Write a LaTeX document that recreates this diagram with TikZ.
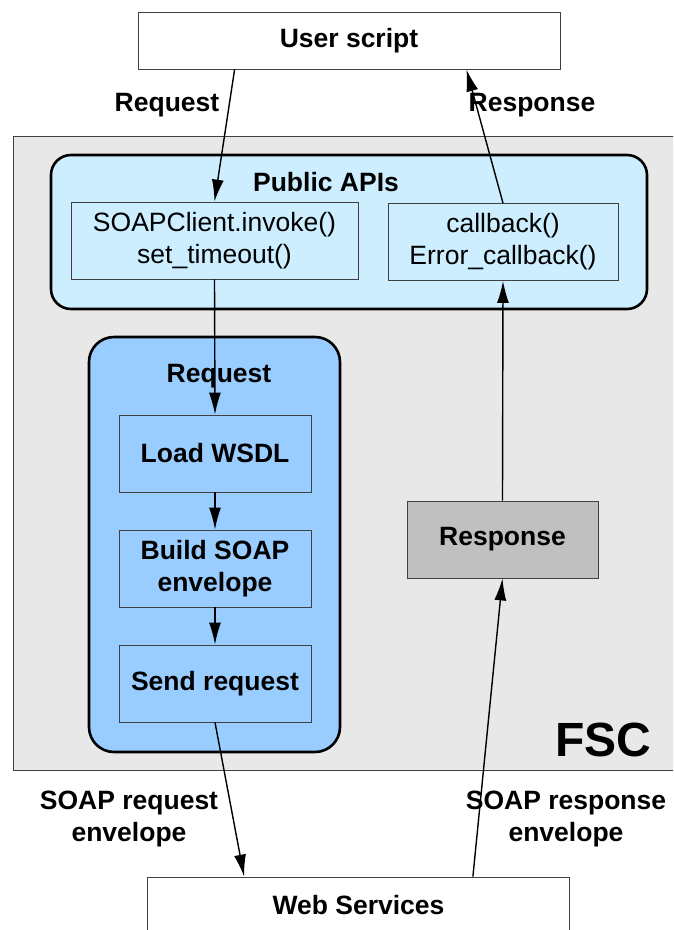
\documentclass[tikz,border=0pt]{standalone}
\usepackage{fontspec}
\setmainfont{Liberation Sans}
\usepackage{xcolor}
\usetikzlibrary{arrows.meta,calc}
\definecolor{fscgray}{HTML}{E8E8E8}
\definecolor{apiblue}{HTML}{CCEEFF}
\definecolor{reqblue}{HTML}{99CCFF}
\definecolor{respgray}{HTML}{C0C0C0}
\definecolor{edge}{HTML}{404040}
\newcommand{\lbl}{\fontsize{26.5}{32}\selectfont}

\begin{document}
\begin{tikzpicture}[x=1pt,y=-1pt,
  plain/.style={draw=edge,line width=0.8pt,fill=white,font=\lbl\bfseries,
                minimum width=422pt,minimum height=57pt,inner sep=0pt},
  group/.style={draw=black,line width=2.6pt,inner sep=0pt},
  apibox/.style={draw=edge,line width=0.8pt,fill=apiblue,font=\lbl,align=center,
                 minimum height=77pt,inner sep=0pt},
  stepbox/.style={draw=edge,line width=0.8pt,fill=reqblue,font=\lbl\bfseries,align=center,
                 minimum width=192pt,minimum height=77pt,inner sep=0pt},
  tag/.style={font=\lbl\bfseries,align=center,inner sep=0pt},
  arr/.style={-{Latex[length=22pt,width=12pt]},line width=1.4pt,black}]
  \useasboundingbox (0,0) rectangle (673,930);
  \clip (0,0) rectangle (673,930);
  % ---- outer frame
  \node[draw=edge,line width=1pt,fill=fscgray,minimum width=690pt,minimum height=634pt,
        inner sep=0pt] (fsc) at (358,453) {};
  \node[font=\fontsize{48}{56}\selectfont\bfseries,inner sep=0pt] (fsctag) at (603,740) {FSC};
  % ---- end points
  \node[plain] (user) at (349,40.5) {User script};
  \node[plain] (web)  at (358.5,905.5) {Web Services};
  % ---- public APIs
  \node[group,fill=apiblue,rounded corners=20pt,minimum width=596pt,minimum height=154pt]
       (api) at (349,232) {};
  \node[tag] (apitag) at (326,182) {Public APIs};
  \node[apibox,minimum width=287pt] (invoke) at (214.5,240.5) {SOAPClient.invoke()\\set\_timeout()};
  \node[apibox,minimum width=230pt] (cb)     at (503,242)     {callback()\\Error\_callback()};
  % ---- request chain
  \node[group,fill=reqblue,rounded corners=25pt,minimum width=251pt,minimum height=415pt]
       (req) at (214.5,544.5) {};
  \node[tag] (reqtag) at (219,376) {Request};
  \node[stepbox] (load)  at (215,453.5) {Load WSDL};
  \node[stepbox] (build) at (215,568.5) {Build SOAP\\envelope};
  \node[stepbox] (send)  at (215,683.5) {Send request};
  \node[stepbox,fill=respgray,minimum width=191pt] (resp) at (502.5,539.5) {Response};
  % ---- connector labels
  \node[tag] (qtag)  at (167,105) {Request};
  \node[tag] (rtag)  at (532,105) {Response};
  \node[tag] (sqtag) at (129,819) {SOAP request\\envelope};
  \node[tag] (srtag) at (566,819) {SOAP response\\envelope};
  % ---- arrows
  \draw[arr] ([xshift=97pt]user.south west) -- (invoke.north);
  \draw[arr] (cb.north) -- ([xshift=-94pt]user.south east);
  \draw[arr] (invoke.south) -- (load.north);
  \draw[arr] (load.south) -- (build.north);
  \draw[arr] (build.south) -- (send.north);
  \draw[arr] (send.south) -- ([xshift=97pt]web.north west);
  \draw[arr] ([xshift=-97pt]web.north east) -- (resp.south);
  \draw[arr] (resp.north) -- (cb.south);
\end{tikzpicture}
\end{document}
